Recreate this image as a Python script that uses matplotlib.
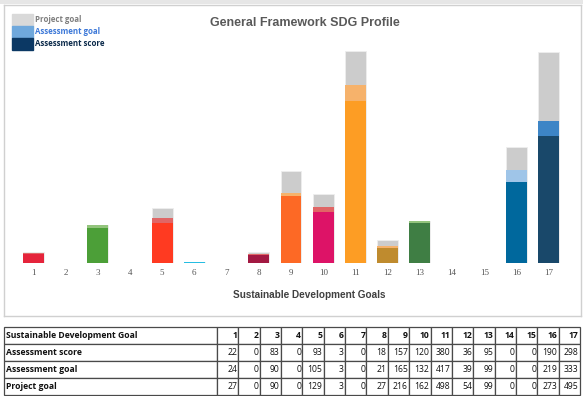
import matplotlib
matplotlib.use("Agg")
import matplotlib.pyplot as plt
import numpy as np
from matplotlib.patches import Rectangle

goals = list(range(1, 18))
assessment_score = [22, 0, 83, 0, 93, 3, 0, 18, 157, 120, 380, 36, 95, 0, 0, 190, 298]
assessment_goal = [24, 0, 90, 0, 105, 3, 0, 21, 165, 132, 417, 39, 99, 0, 0, 219, 333]
project_goal = [27, 0, 90, 0, 129, 3, 0, 27, 216, 162, 498, 54, 99, 0, 0, 273, 495]

sdg_colors = ['#e5243b', '#dda63a', '#4c9f38', '#c5192d', '#ff3a21', '#26bde2',
              '#fcc30b', '#a21942', '#fd6925', '#dd1367', '#fd9d24', '#bf8b2e',
              '#3f7e44', '#0a97d9', '#56c02b', '#00689d', '#19486a']
goal_colors = ['#e06666', '#f6b26b', '#93c47d', '#e06666', '#e06666', '#9fe0f0',
               '#ffe599', '#e06666', '#f6b26b', '#e06666', '#f6b26b', '#f6b26b',
               '#93c47d', '#9fc5e8', '#b6d7a8', '#9fc5e8', '#3d85c6']
gray = '#cccccc'

legend_labels = ['Project goal', 'Assessment goal', 'Assessment score']
legend_colors = ['#d9d9d9', '#6fa8dc', '#0b3864']
legend_text_colors = ['#7f7f7f', '#3c78d8', '#0b2a4a']

table_rows = ['Assessment score', 'Assessment goal', 'Project goal']

W, H = 583, 396
fig = plt.figure(figsize=(W / 100, H / 100), dpi=100)


def px_axes(l, t, r, b, **kw):
    return fig.add_axes([l / W, 1 - b / H, (r - l) / W, (b - t) / H], **kw)


# top band and chart frame
band = px_axes(0, 0, W, 4)
band.axis('off')
band.add_patch(Rectangle((0, 0), 1, 1, color='#e6e6e6', transform=band.transAxes))

frame = px_axes(3.5, 5, 581, 316)
frame.set_xticks([])
frame.set_yticks([])
for s in frame.spines.values():
    s.set_color('#d0d0d0')
    s.set_linewidth(1)

# bar chart
ax = px_axes(17, 41.6, 565, 263)
ax.set_xlim(0.5, 17.5)
ax.set_ylim(0, 520)
w = 0.65
ax.bar(goals, project_goal, width=w, color=gray, edgecolor='#eeeeee', linewidth=0.6)
ax.bar(goals, assessment_goal, width=w, color=goal_colors, linewidth=0)
ax.bar(goals, assessment_score, width=w, color=sdg_colors, linewidth=0)
ax.set_xticks(goals)
ax.set_xticklabels([str(g) for g in goals], family='Liberation Serif', fontsize=6.5,
                   color='#555555')
ax.tick_params(axis='x', length=0, pad=4)
ax.set_yticks([])
for s in ax.spines.values():
    s.set_visible(False)
ax.patch.set_alpha(0)

fig.text(305 / W, 1 - 23 / H, 'General Framework SDG Profile', ha='center', va='center',
         family='Liberation Sans', weight='bold', fontsize=9, color='#595959')
fig.text(309 / W, 1 - 295 / H, 'Sustainable Development Goals', ha='center', va='center',
         family='Liberation Sans', weight='bold', fontsize=7.2, color='#404040')

# legend
for i, (lab, c, tc) in enumerate(zip(legend_labels, legend_colors, legend_text_colors)):
    top = 14 + i * 12
    fig.patches.append(Rectangle((12 / W, 1 - (top + 12) / H), 21 / W, 12 / H,
                                 color=c, transform=fig.transFigure, figure=fig))
    fig.text(35 / W, 1 - (top + 6) / H, lab, ha='left', va='center', family='Open Sans',
             weight='bold', fontsize=5.7, color=tc)

# data table
tax = px_axes(4, 327, 580, 395)
tax.axis('off')
cell_text = [['Sustainable Development Goal'] + [str(g) for g in goals]]
for name, vals in zip(table_rows, [assessment_score, assessment_goal, project_goal]):
    cell_text.append([name] + [str(v) for v in vals])
first = (217 - 4) / 576
rest = (1 - first) / 17
tbl = tax.table(cellText=cell_text, colWidths=[first] + [rest] * 17,
                bbox=[0, 0, 1, 1], cellLoc='right')
tbl.auto_set_font_size(False)
for (r, c), cell in tbl.get_celld().items():
    cell.set_edgecolor('#4a4a4a')
    cell.set_linewidth(0.9)
    txt = cell.get_text()
    txt.set_fontfamily('Open Sans')
    txt.set_fontsize(6.2)
    txt.set_color('#111111')
    cell.PAD = 0.06
    if c == 0:
        txt.set_ha('left')
        cell._loc = 'left'
        txt.set_weight('bold')
        cell.PAD = 0.01
    if r == 0:
        txt.set_weight('bold')

fig.savefig('out.png', dpi=100)
